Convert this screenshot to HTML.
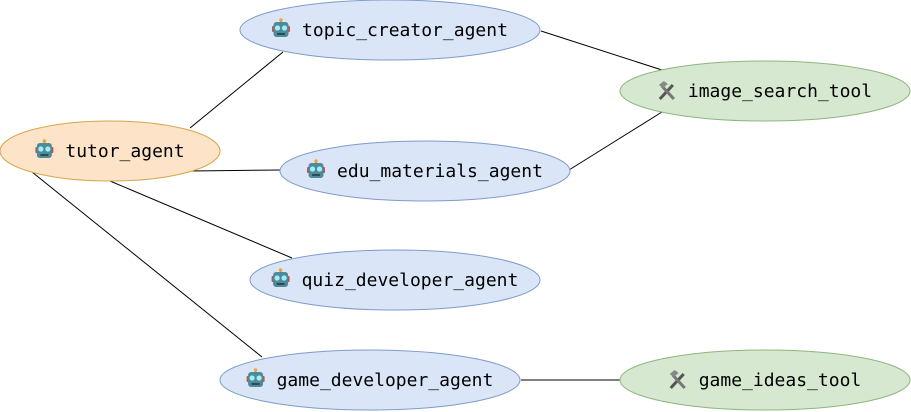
<!DOCTYPE html>
<html><head><meta charset="utf-8"><style>
html,body{margin:0;padding:0;background:#fff;width:911px;height:412px;overflow:hidden}
text{font-family:"DejaVu Sans Mono","Liberation Mono",monospace;font-size:18px;fill:#000}
</style></head><body>
<svg id="s" width="911" height="412" viewBox="0 0 911 412" xmlns="http://www.w3.org/2000/svg">
<g stroke="#000" stroke-width="1">
<line x1="190" y1="128" x2="283" y2="52"/>
<line x1="190" y1="171" x2="281" y2="170"/>
<line x1="110" y1="181" x2="292" y2="258"/>
<line x1="32" y1="172" x2="262" y2="357"/>
<line x1="541" y1="31" x2="662" y2="70"/>
<line x1="569" y1="170" x2="662" y2="112"/>
<line x1="521" y1="380" x2="620" y2="380"/>
</g>
</svg>
<script>
var s=document.getElementById('s'),NS='http://www.w3.org/2000/svg';
var nodes=[
[110,151,110,30,'tutor_agent','a','#fde3c8','#d7a64a'],
[390,30,150,30,'topic_creator_agent','a','#dae6f8','#7f9bc9'],
[765,91,145,30,'image_search_tool','t','#d6e8d0','#8fb57f'],
[425,171,145,30,'edu_materials_agent','a','#dae6f8','#7f9bc9'],
[395,280,145,30,'quiz_developer_agent','a','#dae6f8','#7f9bc9'],
[370,380,150,30,'game_developer_agent','a','#dae6f8','#7f9bc9'],
[765,380,145,30,'game_ideas_tool','t','#d6e8d0','#8fb57f']];
var h='';
nodes.forEach(function(n){
var cx=n[0],cy=n[1],w=18+12+n[4].length*10.84,x=cx-w/2;
h+='<ellipse cx="'+cx+'" cy="'+cy+'" rx="'+n[2]+'" ry="'+n[3]+'" fill="'+n[6]+'" stroke="'+n[7]+'"/>';
if(n[5]=='a'){
h+='<line x1="'+(x+9)+'" y1="'+(cy-10)+'" x2="'+(x+9)+'" y2="'+(cy-7)+'" stroke="#777" stroke-width="1.5"/>'+
'<circle cx="'+(x+9)+'" cy="'+(cy-10)+'" r="1.8" fill="#f2a23a"/>'+
'<rect x="'+x+'" y="'+(cy-4)+'" width="3" height="6" rx="1" fill="#c0504d"/>'+
'<rect x="'+(x+15)+'" y="'+(cy-4)+'" width="3" height="6" rx="1" fill="#c0504d"/>'+
'<rect x="'+(x+1.5)+'" y="'+(cy-8)+'" width="15" height="15" rx="3" fill="#4f8a9a"/>'+
'<circle cx="'+(x+5.5)+'" cy="'+(cy-2)+'" r="2.6" fill="#9ff0f5"/>'+
'<circle cx="'+(x+12.5)+'" cy="'+(cy-2)+'" r="2.6" fill="#9ff0f5"/>'+
'<rect x="'+(x+5)+'" y="'+(cy+3)+'" width="8" height="2" fill="#2d4c55"/>';
}else{
h+='<line x1="'+(x+2)+'" y1="'+(cy+8)+'" x2="'+(x+15)+'" y2="'+(cy-6)+'" stroke="#555" stroke-width="3"/>'+
'<line x1="'+(x+16)+'" y1="'+(cy+8)+'" x2="'+(x+4)+'" y2="'+(cy-5)+'" stroke="#777" stroke-width="3"/>'+
'<path d="M'+(x+1)+' '+(cy-6)+' l5 -4 l4 3 l-5 4z" fill="#888"/>';
}
h+='<text x="'+(x+30)+'" y="'+(cy+6)+'">'+n[4]+'</text>';
});
s.insertAdjacentHTML('beforeend',h);
</script>
</body></html>
